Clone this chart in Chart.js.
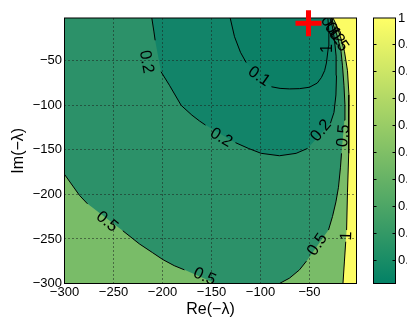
<!DOCTYPE html>
<html><head><meta charset="utf-8">
<script src="https://cdn.jsdelivr.net/npm/chart.js@4/dist/chart.umd.min.js"></script>
<style>html,body{margin:0;padding:0;background:#fff}canvas{display:block}</style>
</head><body>
<canvas id="c" width="407" height="320" style="width:407px;height:320px"></canvas>
<script>
// ---- data ----
const xRange = [-300, -2];
const yRange = [-300, -2];
const xTicks = [-300, -250, -200, -150, -100, -50];
const yTicks = [-300, -250, -200, -150, -100, -50];
const cbRange = [0.013, 1];
const cbTicks = [0.1, 0.2, 0.3, 0.4, 0.5, 0.6, 0.7, 0.8, 0.9, 1];

// contour lines [x, y]; null = gap under an inline label
const level01 = [[-130.9,-2],[-126.5,-23],[-120.4,-40.5],[-114.6,-52],null,[-88.8,-79.2],[-80,-81],[-70.4,-81.6],[-60,-81.3],[-50,-79.7],[-42,-75],[-37.8,-68.8],[-34.5,-61],[-32.7,-52.5],[-30.6,-33.9],[-30.2,-17.6],[-31.2,-2]];
const level02 = [[-210.9,-2],[-208.7,-17.6],[-207.5,-27],null,[-201.5,-62.3],[-192.9,-77.5],[-180.9,-100.1],[-170,-111],[-162.2,-117.6],[-156.1,-122.2],null,[-125.5,-141.9],[-112,-148.5],[-99.3,-153.9],[-80.6,-156.6],[-63.6,-153.9],[-52,-148.4],null,[-28.6,-120.1],[-25,-108.1],[-23,-88.4],[-22.4,-66.6],[-22.8,-44.8],[-24.5,-26.3],[-26.5,-12.1],[-29.1,-2]];
const level05a = [[-300,-177.5],[-284.7,-201.1],[-276.5,-210.6],null,[-240.5,-240.8],[-223.5,-255.6],[-210,-265.5],[-199.7,-273.1],[-188,-280],[-177.6,-284.7],null,[-145.9,-300]];
const level05b = [[-80.6,-300],[-70.4,-294],[-60.2,-284.7],[-53.1,-274.9],null,[-30.6,-240],[-26.5,-224.8],[-23,-208.4],[-20.4,-192],[-18.4,-170.2],[-17.3,-153.9],null,[-14.3,-116.8],[-13.8,-99.3],[-14.8,-77.5],[-16.3,-55.7],[-17.8,-39.4],[-21.4,-23],[-25.5,-9.9],[-27.6,-2]];
const level1 = [[-26,-2],[-22.4,-9.9],[-18.4,-23],[-14.3,-39.4],[-11.2,-61.2],[-9.7,-88.4],[-9.7,-121.2],[-10.2,-153.9],[-11.2,-197.5],[-12.1,-240],null,[-13,-253.1],[-14.3,-274.8],[-15.8,-300]];

// inline contour labels: text, anchor (data units), angle (deg)
const labelText  = ['0.2','0.1','0.2','0.2','0.5','0.5','0.5','0.5','1','0.1','0.2','0.5','1'];
const labelX     = [-216.6,-101.5,-140.1,-38.1,-15.3,-256.6,-157.1,-41.8,-12.2,-28.6,-24.5,-20.4,-32.1];
const labelY     = [-51.2,-67.7,-136.4,-128.5,-134.2,-230.8,-292.4,-256.4,-246.6,-12.1,-19.7,-27.4,-36.1];
const labelAngle = [80,35,31,-50,-85,40,24,-56,-88,55,55,55,-90];

const marker = [[-51, -8]];

// ---- styles ----
const FONT = "'Liberation Sans', Arial, sans-serif";
const C_BG = '#2c9169';     // 0.2 - 0.5
const C_01 = '#0c8066';     // < 0.1
const C_12 = '#128469';     // 0.1 - 0.2
const C_LIGHT = '#79bc68';  // 0.5 - 1
const C_YEL = '#fcfc64';    // > 1

const toPts = a => a.map(p => p ? {x: p[0], y: p[1]} : {x: null, y: null});
const solid = a => a.filter(Boolean).map(p => ({x: p[0], y: p[1]}));
const fmt = v => (v < 0 ? '\u2212' + Math.abs(v) : String(v));
const cbFmt = v => (Math.abs(v - 1) < 1e-9 ? '1' : v.toFixed(1));

const [xMin, xMax] = xRange, [yMin, yMax] = yRange;
const datasets = [];
function addFill(pts, color, role) {
  datasets.push({data: pts, showLine: true, fill: 'shape', backgroundColor: color,
    borderColor: 'rgba(0,0,0,0)', borderWidth: 0, pointRadius: 0, pointHoverRadius: 0, tension: 0, role});
}
function addLine(arr, role) {
  datasets.push({data: toPts(arr), showLine: true, fill: false, borderColor: '#000', borderWidth: 1,
    pointRadius: 0, pointHoverRadius: 0, tension: 0, spanGaps: false, role});
}
addFill(solid(level02), C_12, 'fill');
addFill(solid(level01), C_01, 'fill');
addFill(solid(level05a).concat([{x: xMin, y: yMin}]), C_LIGHT, 'fill');
addFill(solid(level05b).concat([{x: xMax, y: yMax}, {x: xMax, y: yMin}]), C_LIGHT, 'fill');
addFill(solid(level1).concat([{x: xMax, y: yMin}, {x: xMax, y: yMax}]), C_YEL, 'lastfill');
addLine(level01, 'line');
addLine(level02, 'line');
addLine(level05a, 'line');
addLine(level05b, 'line');
addLine(level1, 'lastline');
datasets.push({data: marker.map(p => ({x: p[0], y: p[1]})), showLine: false, pointStyle: 'cross',
  pointRadius: 13, pointHoverRadius: 13, pointBorderWidth: 5, pointBorderColor: '#ff0000',
  pointBackgroundColor: '#ff0000', clip: false, role: 'marker'});
datasets.forEach((d, i) => { d.order = datasets.length - i; });

function summer(v) { return `rgb(${Math.round(255 * v)},${Math.round(127.5 + 127.5 * v)},102)`; }
function noPad(s) { s.paddingTop = 0; s.paddingBottom = 0; s.paddingLeft = 0; s.paddingRight = 0; }

const contourPlugin = {
  id: 'contourDecor',
  beforeDatasetsDraw(chart) {
    const {ctx, chartArea: a} = chart;
    ctx.save(); ctx.fillStyle = C_BG; ctx.fillRect(a.left, a.top, a.width, a.height); ctx.restore();
  },
  afterDatasetDraw(chart, args) {
    const role = chart.data.datasets[args.index].role;
    const {ctx, chartArea: a} = chart;
    const xs = chart.scales.x, ys = chart.scales.y;
    if (role === 'lastfill') {
      ctx.save();
      ctx.beginPath(); ctx.rect(a.left, a.top, a.width, a.height); ctx.clip();
      ctx.strokeStyle = '#1a1a1a'; ctx.lineWidth = 1; ctx.setLineDash([1, 3]);
      xTicks.forEach(v => {
        if (v <= xs.min || v >= xs.max) return;
        const p = Math.round(xs.getPixelForValue(v) - 0.5) + 0.5;
        ctx.beginPath(); ctx.moveTo(p, a.bottom); ctx.lineTo(p, a.top); ctx.stroke();
      });
      yTicks.forEach(v => {
        if (v <= ys.min || v >= ys.max) return;
        const p = Math.round(ys.getPixelForValue(v) - 0.5) + 0.5;
        ctx.beginPath(); ctx.moveTo(a.left, p); ctx.lineTo(a.right, p); ctx.stroke();
      });
      ctx.restore();
    }
    if (role === 'lastline') {
      ctx.save();
      ctx.beginPath(); ctx.rect(a.left, a.top, a.width, a.height); ctx.clip();
      ctx.fillStyle = '#000'; ctx.font = '16.5px ' + FONT;
      ctx.textAlign = 'center'; ctx.textBaseline = 'middle';
      labelText.forEach((t, i) => {
        ctx.save();
        ctx.translate(xs.getPixelForValue(labelX[i]), ys.getPixelForValue(labelY[i]));
        ctx.rotate(labelAngle[i] * Math.PI / 180);
        ctx.fillText(t, 0, 0);
        ctx.restore();
      });
      ctx.restore();
      ctx.save(); ctx.strokeStyle = '#000'; ctx.lineWidth = 1;
      ctx.strokeRect(a.left, a.top, a.width, a.height); ctx.restore();
    }
  },
  afterDraw(chart) {
    const {ctx} = chart;
    const cb = chart.scales.cb;
    const top = cb.getPixelForValue(cbRange[1]), bot = cb.getPixelForValue(cbRange[0]);
    const L = 373.5, W = 22;
    const g = ctx.createLinearGradient(0, bot, 0, top);
    for (let k = 0; k <= 10; k++) {
      const t = k / 10; const v = cbRange[0] + t * (cbRange[1] - cbRange[0]);
      g.addColorStop(t, summer(v));
    }
    ctx.save();
    ctx.fillStyle = g; ctx.fillRect(L, top, W, bot - top);
    ctx.strokeStyle = '#000'; ctx.lineWidth = 1;
    ctx.strokeRect(L, top, W, bot - top);
    cbTicks.forEach(v => {
      if (v >= cbRange[1]) return;
      const p = Math.round(cb.getPixelForValue(v) - 0.5) + 0.5;
      ctx.beginPath(); ctx.moveTo(L, p); ctx.lineTo(L + 3, p);
      ctx.moveTo(L + W - 3, p); ctx.lineTo(L + W, p); ctx.stroke();
    });
    ctx.restore();
  }
};

new Chart(document.getElementById('c'), {
  type: 'scatter',
  data: {datasets},
  plugins: [contourPlugin],
  options: {
    responsive: false, animation: false, events: [], devicePixelRatio: 1,
    layout: {padding: {top: 10.5, left: 0, right: 0, bottom: 0}},
    plugins: {legend: {display: false}, tooltip: {enabled: false}},
    scales: {
      x: {
        type: 'linear', position: 'bottom', min: xMin, max: xMax,
        afterFit: s => { s.height = 36.5; noPad(s); },
        afterBuildTicks: s => { s.ticks = xTicks.map(v => ({value: v})); },
        grid: {display: false, drawTicks: false}, border: {display: false},
        ticks: {color: '#000', font: {family: FONT, size: 13}, padding: 1, maxRotation: 0, autoSkip: false, callback: v => fmt(v)},
        title: {display: true, text: 'Re(\u2212\u03bb)', color: '#000', font: {family: FONT, size: 16}, padding: {top: 0, bottom: 1}}
      },
      y: {
        type: 'linear', position: 'left', min: yMin, max: yMax,
        afterFit: s => { s.width = 64.5; noPad(s); },
        afterBuildTicks: s => { s.ticks = yTicks.map(v => ({value: v})); },
        grid: {display: false, drawTicks: false}, border: {display: false},
        ticks: {color: '#000', font: {family: FONT, size: 13}, padding: 2.5, autoSkip: false, callback: v => fmt(v)},
        title: {display: true, text: 'Im(\u2212\u03bb)', color: '#000', font: {family: FONT, size: 16}, padding: {top: 9, bottom: 0}}
      },
      cb: {
        type: 'linear', position: 'right', min: cbRange[0], max: cbRange[1],
        afterFit: s => { s.width = 50.5; noPad(s); },
        afterBuildTicks: s => { s.ticks = cbTicks.map(v => ({value: v})); },
        grid: {display: false, drawTicks: false}, border: {display: false},
        ticks: {color: '#000', font: {family: FONT, size: 13}, padding: 41.5, autoSkip: false, callback: v => cbFmt(v)}
      }
    }
  }
});
</script>
</body></html>
